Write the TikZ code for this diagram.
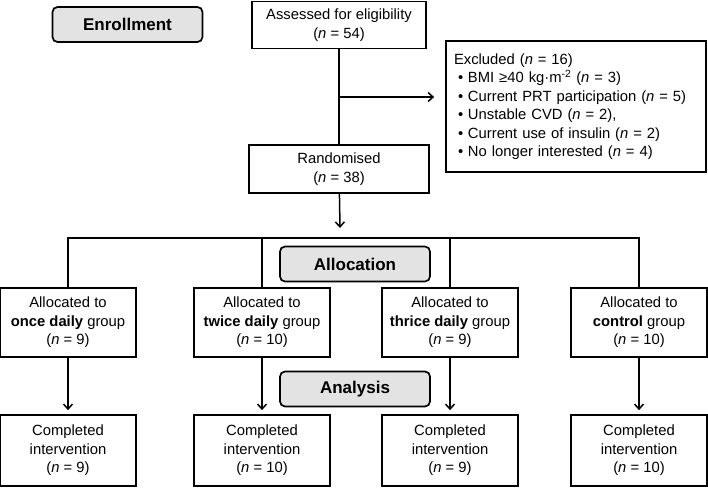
\documentclass[tikz,border=0pt]{standalone}
\usepackage{fontspec}
\setmainfont{Liberation Sans}
\usepackage{xcolor}
\usepackage{tikz}
\usetikzlibrary{positioning, arrows.meta}

\definecolor{headfill}{HTML}{E3E3E3}

\tikzset{
  box/.style={draw, line width=1.7pt, align=center, inner sep=2pt,
    font=\fontsize{14.8}{18.5}\selectfont},
  stage/.style={draw, line width=1.7pt, rounded corners=5pt, fill=headfill,
    minimum width=150pt, minimum height=35pt,
    font=\fontsize{17}{20}\selectfont\bfseries},
  group/.style={box, minimum width=136pt, minimum height=69pt},
  done/.style={box, minimum width=136pt, minimum height=71pt},
  flow/.style={line width=1.5pt},
}

\begin{document}
\begin{tikzpicture}[x=1pt, y=-1pt, on grid, >={Straight Barb[length=5pt,width=9pt]}]
  \useasboundingbox (0,0) rectangle (708,487);

  % enrollment
  \node[stage] (enrol) at (127.5,24.5) {Enrollment};
  \node[box, minimum width=174pt, minimum height=47pt] (assess) at (339,25)
    {Assessed for eligibility\\(\textit{n} = 54)};
  \node[box, minimum width=180pt, minimum height=48pt] (rand) [below=144pt of assess]
    {Randomised\\(\textit{n} = 38)};
  \node[box, text width=244pt, minimum height=131pt, inner xsep=8pt, align=left]
    (excl) at (576,106.5)
    {Excluded (\textit{n} = 16)\\
     \hspace*{4pt}\makebox[10pt][l]{•}BMI ≥40 kg·m\textsuperscript{-2} (\textit{n} = 3)\\
     \hspace*{4pt}\makebox[10pt][l]{•}Current PRT participation (\textit{n} = 5)\\
     \hspace*{4pt}\makebox[10pt][l]{•}Unstable CVD (\textit{n} = 2),\\
     \hspace*{4pt}\makebox[10pt][l]{•}Current use of insulin (\textit{n} = 2)\\
     \hspace*{4pt}\makebox[10pt][l]{•}No longer interested (\textit{n} = 4)};

  \coordinate (fork) at (339,97);
  \coordinate (tip) at (340,228);
  \coordinate (bar) at (0,238);

  \draw[flow] (assess) -- (rand);
  \draw[flow, ->, shorten >=11pt] (fork) -- (fork -| excl.west);
  \draw[flow, ->] (rand) -- (tip);

  % allocation
  \node[stage] (alloc) at (355,264) {Allocation};
  \node[group] (g1) at (68,322.5) {Allocated to\\\textbf{once daily} group\\(\textit{n} = 9)};
  \node[group] (g2) [right=194pt of g1] {Allocated to\\\textbf{twice daily} group\\(\textit{n} = 10)};
  \node[group] (g3) [right=188pt of g2] {Allocated to\\\textbf{thrice daily} group\\(\textit{n} = 9)};
  \node[group] (g4) [right=189pt of g3] {Allocated to\\\textbf{control} group\\(\textit{n} = 10)};

  \draw[flow] (g1.north) -- (g1.north |- bar) -- (g4.north |- bar) -- (g4.north);
  \draw[flow] (g2.north) -- (g2.north |- bar);
  \draw[flow] (g3.north) -- (g3.north |- bar);

  % analysis
  \node[stage] (analysis) at (355,389) {Analysis};
  \node[done] (c1) [below=128pt of g1] {Completed\\intervention\\(\textit{n} = 9)};
  \node[done] (c2) [below=128pt of g2] {Completed\\intervention\\(\textit{n} = 10)};
  \node[done] (c3) [below=128pt of g3] {Completed\\intervention\\(\textit{n} = 9)};
  \node[done] (c4) [below=128pt of g4] {Completed\\intervention\\(\textit{n} = 10)};

  \foreach \i in {1,...,4}
    \draw[flow, ->, shorten >=4pt] (g\i) -- (c\i);
\end{tikzpicture}
\end{document}
